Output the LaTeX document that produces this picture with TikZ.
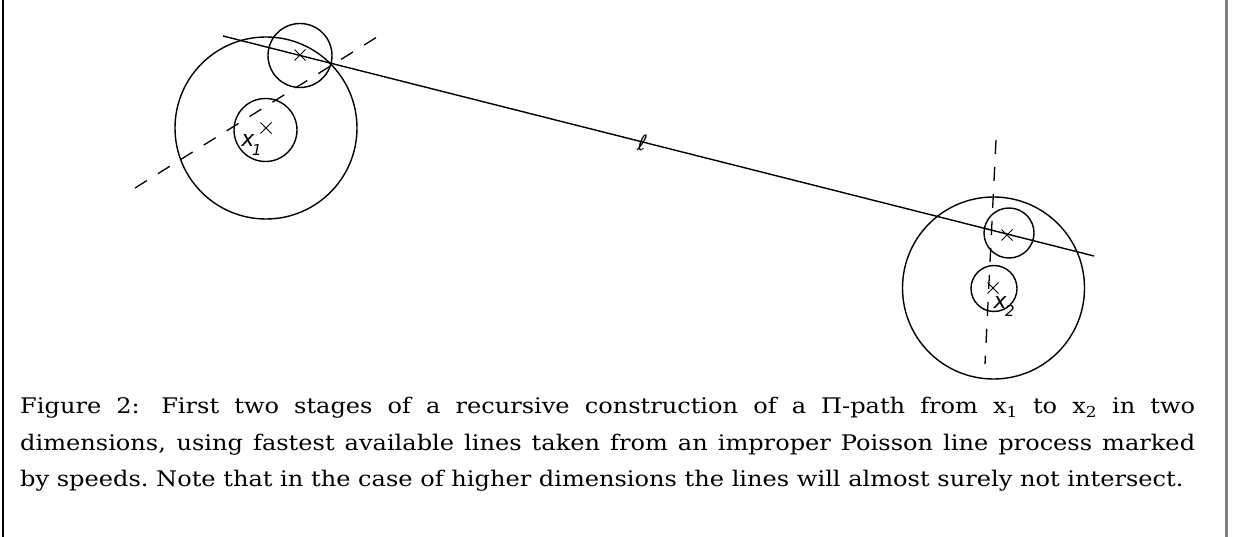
\documentclass[tikz,border=0pt]{standalone}
\usepackage{fontspec}
\newfontfamily\labelfont{DejaVu Sans}
\newfontfamily\capfont{DejaVu Serif}[FakeStretch=1.12]
\newfontfamily\ellfont{DejaVu Sans}[FakeSlant=0.2]
\usetikzlibrary{shapes.misc}

\begin{document}
\begin{tikzpicture}[
  x=1pt, y=-1pt,
  ring/.style={draw, circle, line width=1.4pt, inner sep=0pt},
  mark x/.style={draw, cross out, line width=1pt, inner sep=0pt, minimum size=10pt},
  route/.style={line width=1.4pt},
  probe/.style={line width=1.3pt, dash pattern=on 14pt off 13pt},
  pt/.style={font=\fontsize{22}{22}\selectfont\labelfont\itshape, inner sep=0pt}
]
  \useasboundingbox (0,0) rectangle (1236,537);

  % frame
  \draw[line width=1.3pt] (3,0) -- (3,537);
  \draw[line width=3pt, gray] (1226.5,0) -- (1226.5,537);

  % first point and its balls
  \node[ring, minimum size=182pt] (bigA) at (266,128) {};
  \node[ring, minimum size=63pt] (innerA) at (265.5,130) {};
  \node[ring, minimum size=64pt] (topA) at (300,55.5) {};
  \node[mark x] (cA) at (266,128) {};
  \node[mark x] (cA2) at (300,55) {};
  \node[pt] (x1) at (248,140) {x};
  \node[pt, font=\fontsize{15}{15}\selectfont\labelfont\itshape] (s1) at (257,150) {1};

  % second point and its balls
  \node[ring, minimum size=182pt] (bigB) at (993.5,288) {};
  \node[ring, minimum size=50pt] (topB) at (1009,233) {};
  \node[ring, minimum size=46pt] (lowB) at (994,288.5) {};
  \node[mark x] (cB) at (993,288) {};
  \node[mark x] (cB2) at (1007,235) {};
  \node[pt] (x2) at (1000,302) {x};
  \node[pt, font=\fontsize{15}{15}\selectfont\labelfont\itshape] (s2) at (1010,311) {2};

  % the fast line
  \coordinate (lA) at (223,36);
  \coordinate (lB) at (1094,256);
  \draw[route] (lA) -- (lB);
  \node[font=\fontsize{21}{21}\selectfont\ellfont] (ell) at (641,143) {ℓ};

  % dashed lines
  \coordinate (dA1) at (135,188);
  \coordinate (dA2) at (377,37);
  \draw[probe] (dA1) -- (dA2);
  \coordinate (dB1) at (996,140);
  \coordinate (dB2) at (985,364);
  \draw[probe] (dB1) -- (dB2);

  % caption
  \node[anchor=north west, inner sep=0pt, text width=1175pt, align=justify,
        font=\fontsize{21.5}{36.5}\selectfont\capfont] (cap) at (20,397)
    {Figure 2:\quad First two stages of a recursive construction of a Π-path from x\textsubscript{1} to x\textsubscript{2} in two\linebreak
     dimensions, using fastest available lines taken from an improper Poisson line process marked\linebreak
     by speeds.\ Note that in the case of higher dimensions the lines will almost surely not intersect.\par};
\end{tikzpicture}
\end{document}
